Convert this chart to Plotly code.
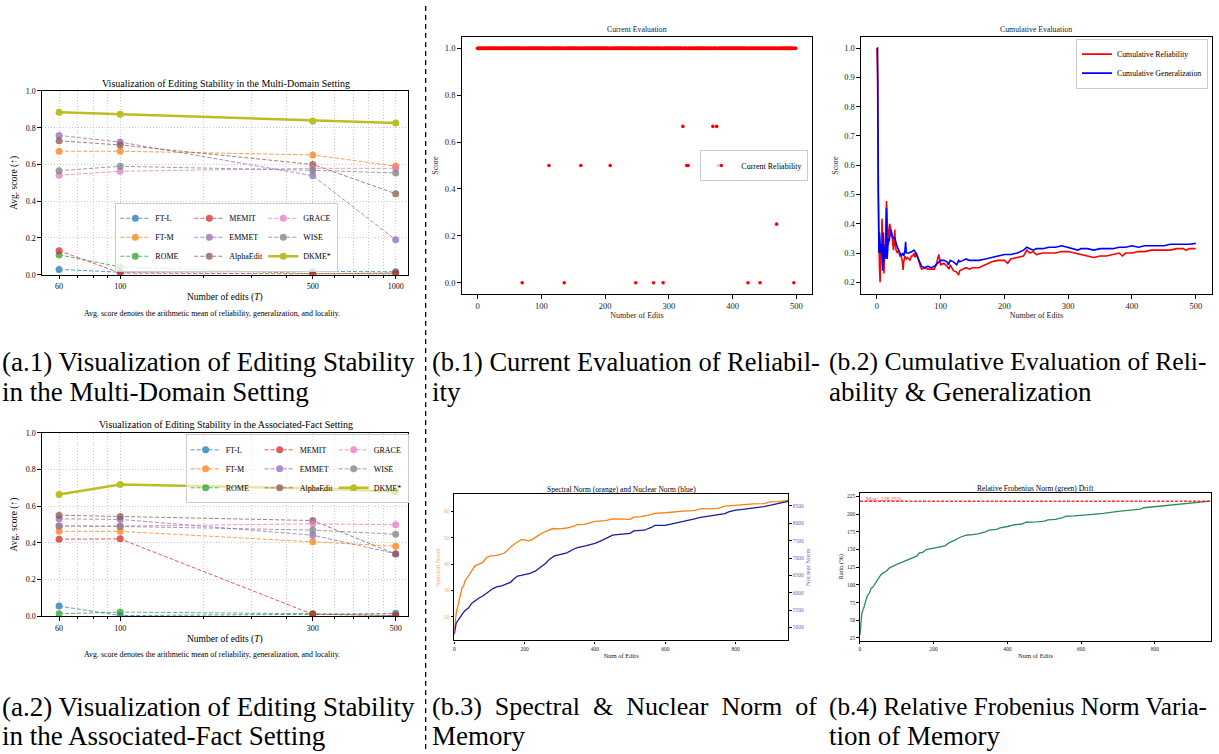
import plotly.graph_objects as go

W, H = 1219, 754
SERIF = "Liberation Serif"


def fx(px):
    return px / W


def fy(py):
    return 1 - py / H


# ---------------- (a.1) / (a.2) data ----------------
methods = ["FT-L", "FT-M", "ROME", "MEMIT", "EMMET", "AlphaEdit", "GRACE", "WISE", "DKME*"]
method_colors = ["#1f77b4", "#ff7f0e", "#2ca02c", "#d62728", "#9467bd",
                 "#8c564b", "#e377c2", "#7f7f7f", "#bcbd22"]

a1_edits = [60, 100, 500, 1000]
a1_tick_labels = ["60", "100", "500", "1000"]
a1_ftl = [0.029, 0.014, 0.018, 0.016]
a1_ftm = [0.672, 0.672, 0.652, 0.591]
a1_rome = [0.108, 0.043, 0.005, 0.005]
a1_memit = [0.131, 0.009, 0.005, 0.009]
a1_emmet = [0.758, 0.722, 0.539, 0.190]
a1_alphaedit = [0.729, 0.706, 0.600, 0.441]
a1_grace = [0.541, 0.563, 0.579, 0.579]
a1_wise = [0.566, 0.590, 0.568, 0.554]
a1_dkme = [0.884, 0.873, 0.837, 0.826]

# the source draws (a.2) on the same log grid as (a.1), relabelling the ticks
a2_edit_labels = ["60", "100", "300", "500"]
a2_edit_positions = [60, 100, 500, 1000]
a2_ftl = [0.056, 0.004, 0.011, 0.016]
a2_ftm = [0.463, 0.463, 0.406, 0.382]
a2_rome = [0.014, 0.023, 0.014, 0.004]
a2_memit = [0.420, 0.422, 0.011, 0.004]
a2_emmet = [0.531, 0.528, 0.442, 0.341]
a2_alphaedit = [0.551, 0.544, 0.522, 0.339]
a2_grace = [0.492, 0.492, 0.504, 0.499]
a2_wise = [0.492, 0.490, 0.470, 0.447]
a2_dkme = [0.664, 0.718, 0.697, 0.680]

minor_edit_ticks = [70, 80, 90, 200, 300, 400, 600, 700, 800, 900]

# ---------------- (b.1) data ----------------
b1_num_edits = list(range(0, 500))
b1_imperfect_edits = [70, 112, 136, 162, 208, 248, 276, 291, 322, 328, 330,
                      369, 375, 377, 424, 443, 469, 496]
b1_imperfect_scores = [0.0, 0.5, 0.0, 0.5, 0.5, 0.0, 0.0, 0.0, 0.667, 0.5, 0.5,
                       0.667, 0.667, 0.5, 0.0, 0.0, 0.25, 0.0]
b1_reliability = [1.0] * len(b1_num_edits)
for e, s in zip(b1_imperfect_edits, b1_imperfect_scores):
    b1_reliability[e] = s

# ---------------- (b.2) data ----------------
b2_cum_reliability = [
    (0, 1.0), (1, 0.9), (2, 0.5), (3, 0.33), (4, 0.25), (5, 0.2), (6, 0.33), (7, 0.29),
    (8, 0.417), (9, 0.33), (10, 0.3), (11, 0.23), (12, 0.33), (13, 0.31), (14, 0.43),
    (15, 0.478), (16, 0.41), (17, 0.35), (18, 0.33), (19, 0.37), (20, 0.40), (21, 0.39),
    (22, 0.38), (23, 0.36), (24, 0.35), (25, 0.33), (26, 0.31), (27, 0.34), (28, 0.38),
    (29, 0.33), (30, 0.31), (32, 0.30), (34, 0.31), (36, 0.29), (38, 0.29), (40, 0.27),
    (41, 0.242), (42, 0.27), (44, 0.29), (46, 0.28), (48, 0.285), (50, 0.28), (52, 0.275),
    (54, 0.29), (56, 0.29), (58, 0.30), (60, 0.285), (62, 0.30), (64, 0.28), (66, 0.27),
    (68, 0.255), (70, 0.245), (75, 0.25), (80, 0.245), (85, 0.245), (90, 0.245),
    (93, 0.26), (95, 0.275), (97, 0.295), (100, 0.26), (105, 0.265), (110, 0.255),
    (113, 0.245), (115, 0.26), (120, 0.24), (125, 0.235), (128, 0.225), (130, 0.24),
    (135, 0.245), (140, 0.25), (145, 0.245), (150, 0.25), (160, 0.25), (170, 0.26),
    (180, 0.27), (190, 0.275), (200, 0.275), (205, 0.265), (210, 0.28), (220, 0.285),
    (230, 0.29), (235, 0.31), (240, 0.30), (245, 0.305), (250, 0.295), (260, 0.30),
    (270, 0.30), (280, 0.30), (290, 0.305), (300, 0.305), (310, 0.30), (320, 0.295),
    (330, 0.29), (340, 0.285), (350, 0.29), (360, 0.29), (370, 0.295), (380, 0.30),
    (385, 0.29), (390, 0.30), (400, 0.30), (410, 0.305), (420, 0.305), (430, 0.31),
    (440, 0.31), (450, 0.31), (460, 0.31), (470, 0.315), (480, 0.315), (485, 0.31),
    (490, 0.315), (500, 0.315)]
b2_cum_generalization = [
    (0, 1.0), (1, 1.0), (2, 0.6), (3, 0.30), (4, 0.37), (5, 0.33), (6, 0.30), (7, 0.33),
    (8, 0.30), (9, 0.24), (10, 0.37), (11, 0.27), (12, 0.32), (13, 0.28), (14, 0.30),
    (15, 0.455), (16, 0.28), (17, 0.33), (18, 0.35), (19, 0.34), (20, 0.36), (22, 0.38),
    (24, 0.36), (26, 0.35), (28, 0.35), (30, 0.33), (32, 0.32), (34, 0.31), (36, 0.30),
    (38, 0.29), (40, 0.30), (42, 0.29), (44, 0.31), (45, 0.338), (46, 0.30), (48, 0.30),
    (50, 0.30), (55, 0.305), (58, 0.31), (60, 0.305), (63, 0.29), (66, 0.275), (70, 0.255),
    (75, 0.25), (80, 0.255), (85, 0.25), (90, 0.255), (95, 0.265), (100, 0.275),
    (105, 0.275), (110, 0.27), (112, 0.26), (115, 0.275), (120, 0.27), (125, 0.26),
    (128, 0.275), (130, 0.27), (135, 0.275), (140, 0.28), (145, 0.275), (150, 0.275),
    (160, 0.275), (170, 0.28), (180, 0.285), (190, 0.29), (200, 0.295), (210, 0.295),
    (220, 0.30), (230, 0.31), (235, 0.32), (240, 0.315), (245, 0.31), (250, 0.315),
    (260, 0.315), (270, 0.32), (280, 0.32), (290, 0.325), (300, 0.32), (310, 0.315),
    (315, 0.31), (320, 0.315), (330, 0.315), (340, 0.31), (350, 0.315), (360, 0.315),
    (370, 0.315), (380, 0.32), (390, 0.32), (400, 0.325), (410, 0.32), (420, 0.325),
    (430, 0.325), (440, 0.325), (450, 0.325), (460, 0.33), (470, 0.33), (480, 0.33),
    (490, 0.33), (500, 0.333)]

# ---------------- (b.3) data ----------------
b3_spectral_norm = [
    (0, 15.0), (3, 19.0), (6, 22.0), (10, 24.0), (14, 26.0), (18, 28.5), (22, 31.0),
    (26, 31.5), (30, 33.5), (35, 34.5), (40, 35.5), (45, 36.5), (50, 37.0), (55, 38.0),
    (60, 39.5), (70, 40.0), (80, 40.5), (90, 42.3), (100, 43.0), (120, 43.3), (140, 44.0),
    (150, 45.0), (160, 46.5), (170, 47.5), (180, 48.5), (190, 49.3), (200, 49.2),
    (210, 48.8), (220, 49.2), (230, 50.2), (240, 51.0), (250, 51.8), (260, 52.3),
    (280, 53.5), (300, 53.4), (320, 53.7), (340, 54.4), (350, 55.0), (370, 55.1),
    (400, 56.2), (430, 56.5), (450, 57.2), (480, 57.1), (500, 57.0), (510, 57.8),
    (530, 58.0), (550, 58.5), (570, 59.3), (600, 59.5), (620, 59.8), (650, 60.1),
    (680, 60.3), (700, 61.0), (730, 61.1), (750, 61.2), (770, 62.0), (800, 62.4),
    (830, 62.6), (850, 62.9), (880, 63.0), (900, 63.6), (920, 63.7), (949, 64.2)]
b3_nuclear_norm = [
    (0, 4800), (2, 5000), (5, 5120), (10, 5200), (15, 5280), (20, 5380), (25, 5420),
    (30, 5480), (40, 5560), (50, 5700), (60, 5780), (70, 5850), (80, 5900), (90, 5980),
    (100, 6060), (110, 6120), (120, 6170), (135, 6200), (150, 6260), (160, 6300),
    (170, 6400), (180, 6480), (190, 6500), (200, 6520), (215, 6560), (230, 6620),
    (240, 6700), (250, 6760), (260, 6850), (270, 6960), (285, 7060), (300, 7100),
    (320, 7150), (340, 7260), (350, 7300), (370, 7340), (390, 7400), (400, 7420),
    (420, 7510), (440, 7600), (450, 7660), (470, 7680), (490, 7700), (500, 7710),
    (510, 7780), (540, 7800), (560, 7880), (570, 7940), (600, 7940), (620, 7980),
    (640, 8040), (660, 8080), (680, 8120), (700, 8170), (720, 8200), (750, 8240),
    (770, 8280), (780, 8330), (800, 8380), (820, 8400), (840, 8420), (860, 8440),
    (880, 8480), (900, 8520), (920, 8560), (940, 8600), (949, 8630)]

# ---------------- (b.4) data ----------------
b4_frobenius_ratio = [
    (0, 29.6), (3, 50), (5, 60), (8, 65), (10, 67), (15, 76), (20, 85), (25, 88), (30, 95),
    (35, 97), (40, 101), (45, 105), (50, 110), (55, 113), (60, 116), (70, 119), (80, 124),
    (90, 127), (100, 129), (110, 131), (120, 133), (130, 135), (140, 137), (150, 139),
    (155, 141), (160, 145), (170, 146), (180, 150), (190, 151), (200, 152), (220, 153),
    (230, 155), (240, 159), (250, 161), (260, 164), (270, 167), (280, 169), (290, 170.5),
    (300, 170.6), (320, 172), (340, 175), (350, 177.5), (370, 178.5), (380, 180.5),
    (400, 182.5), (420, 185), (440, 186), (450, 188.5), (480, 189), (500, 190),
    (510, 192), (530, 192.5), (550, 195), (560, 197), (580, 197.5), (600, 198),
    (620, 199), (640, 200), (660, 201), (680, 203), (700, 204), (720, 205), (740, 206),
    (760, 207), (770, 209), (790, 210), (800, 211), (820, 211.5), (850, 213.4),
    (870, 214), (900, 215.2), (920, 216.5), (940, 217.5), (950, 218.25)]


def unzip(pts):
    return [p[0] for p in pts], [p[1] for p in pts]


# ---------------- figure ----------------
fig = go.Figure()

a1_series = [a1_ftl, a1_ftm, a1_rome, a1_memit, a1_emmet, a1_alphaedit, a1_grace, a1_wise, a1_dkme]
a2_series = [a2_ftl, a2_ftm, a2_rome, a2_memit, a2_emmet, a2_alphaedit, a2_grace, a2_wise, a2_dkme]


def add_method_traces(xs, series, xa, ya, legend, prefix):
    for i, (name, col, ys) in enumerate(zip(methods, method_colors, series)):
        ours = name == "DKME*"
        fig.add_trace(go.Scatter(
            x=xs, y=ys, name=name, mode="lines+markers",
            line=dict(color=col, width=2.6 if ours else 1, dash="solid" if ours else "4px,2px"),
            marker=dict(size=7, color=col),
            opacity=1.0 if ours else 0.75,
            xaxis=xa, yaxis=ya, legend=legend, legendgroup=f"{prefix}{i // 3}",
            hoverinfo="skip"))


add_method_traces(a1_edits, a1_series, "x", "y", "legend", "a1col")
add_method_traces(a2_edit_positions, a2_series, "x2", "y2", "legend2", "a2col")

fig.add_trace(go.Scatter(
    x=b1_num_edits, y=b1_reliability, mode="markers", name="Current Reliability",
    marker=dict(size=3.6, color="#ff0000"), xaxis="x3", yaxis="y3", legend="legend3"))

bx, by = unzip(b2_cum_reliability)
fig.add_trace(go.Scatter(x=bx, y=by, mode="lines", name="Cumulative Reliability",
                         line=dict(color="#ff0000", width=1.6), xaxis="x4", yaxis="y4",
                         legend="legend4"))
bx, by = unzip(b2_cum_generalization)
fig.add_trace(go.Scatter(x=bx, y=by, mode="lines", name="Cumulative Generalization",
                         line=dict(color="#0000ff", width=1.6), xaxis="x4", yaxis="y4",
                         legend="legend4"))

SPEC_COL = "#ff7f0e"
NUC_COL = "#1c1c96"
bx, by = unzip(b3_spectral_norm)
fig.add_trace(go.Scatter(x=bx, y=by, mode="lines", line=dict(color=SPEC_COL, width=1.3),
                         xaxis="x5", yaxis="y5", showlegend=False))
bx, by = unzip(b3_nuclear_norm)
fig.add_trace(go.Scatter(x=bx, y=by, mode="lines", line=dict(color=NUC_COL, width=1.3),
                         xaxis="x5", yaxis="y6", showlegend=False))

bx, by = unzip(b4_frobenius_ratio)
fig.add_trace(go.Scatter(x=bx, y=by, mode="lines", line=dict(color="#2e8b57", width=1.3),
                         xaxis="x6", yaxis="y7", showlegend=False))
b4_max = max(by)

# ---------------- axes ----------------
GRID = "rgba(185,185,185,0.75)"


def base_axis(size, color="black", ticklen=3.5):
    return dict(showline=True, linecolor="black", linewidth=1, mirror=True,
                ticks="outside", ticklen=ticklen, tickwidth=0.8, tickcolor="black",
                showgrid=False, zeroline=False,
                tickfont=dict(family=SERIF, size=size, color=color))


def a_xaxis(anchor, ticktext):
    ax = base_axis(8)
    ax.update(type="log", range=[1.716, 3.0435], tickmode="array", tickvals=a1_edits,
              ticktext=ticktext, domain=[fx(41), fx(407)], anchor=anchor, linewidth=1.2,
              showgrid=True, gridcolor=GRID, griddash="1px,2px", gridwidth=0.7,
              minor=dict(tickmode="array", tickvals=minor_edit_ticks, ticks="outside",
                         ticklen=2, tickcolor="black", showgrid=True, gridcolor=GRID,
                         griddash="1px,2px", gridwidth=0.7),
              title=dict(text="Number of edits (<i>T</i>)",
                         font=dict(family=SERIF, size=9.5, color="black"), standoff=3))
    return ax


def a_yaxis(anchor, top, bottom):
    ax = base_axis(8)
    ax.update(range=[0, 1], tickvals=[0, 0.2, 0.4, 0.6, 0.8, 1.0], tickformat=".1f",
              domain=[fy(bottom), fy(top)], anchor=anchor, linewidth=1.2,
              showgrid=True, gridcolor=GRID, griddash="1px,2px", gridwidth=0.7,
              title=dict(text="Avg. score (↑)", font=dict(family=SERIF, size=9.5, color="black"),
                         standoff=6))
    return ax


layout_axes = {}
layout_axes["xaxis"] = a_xaxis("y", a1_tick_labels)
layout_axes["yaxis"] = a_yaxis("x", 88, 274)
layout_axes["xaxis2"] = a_xaxis("y2", a2_edit_labels)
layout_axes["yaxis2"] = a_yaxis("x2", 434, 619.7)

ax = base_axis(8.5, "#222222")
ax.update(range=[-25, 525], tickvals=[0, 100, 200, 300, 400, 500], domain=[fx(461), fx(812)],
          anchor="y3", title=dict(text="Number of Edits", font=dict(family=SERIF, size=8, color="#222"),
                                  standoff=2))
layout_axes["xaxis3"] = ax
ax = base_axis(8.5, "#222222")
ax.update(range=[-0.05, 1.05], tickvals=[0, 0.2, 0.4, 0.6, 0.8, 1.0], tickformat=".1f",
          domain=[fy(294), fy(33)], anchor="x3",
          title=dict(text="Score", font=dict(family=SERIF, size=8, color="#222"), standoff=4))
layout_axes["yaxis3"] = ax

ax = base_axis(8.5, "#222222")
ax.update(range=[-25, 525], tickvals=[0, 100, 200, 300, 400, 500], domain=[fx(860.7), fx(1211.7)],
          anchor="y4", title=dict(text="Number of Edits", font=dict(family=SERIF, size=8, color="#222"),
                                  standoff=2))
layout_axes["xaxis4"] = ax
ax = base_axis(8.5, "#222222")
ax.update(range=[0.1585, 1.039], tickvals=[0.2, 0.3, 0.4, 0.5, 0.6, 0.7, 0.8, 0.9, 1.0],
          tickformat=".1f", domain=[fy(294), fy(33)], anchor="x4",
          title=dict(text="Score", font=dict(family=SERIF, size=8, color="#222"), standoff=4))
layout_axes["yaxis4"] = ax

SPEC_TXT = "rgb(255,160,95)"
NUC_TXT = "rgb(105,105,200)"
ax = base_axis(5.5, "#222222", ticklen=2.5)
ax.update(range=[0, 949], tickvals=[0, 200, 400, 600, 800], domain=[fx(453.7), fx(787.7)],
          anchor="y5", linewidth=1.4,
          title=dict(text="Num of Edits", font=dict(family=SERIF, size=6.5, color="#222"), standoff=2))
layout_axes["xaxis5"] = ax
ax = base_axis(5.5, SPEC_TXT, ticklen=2.5)
ax.update(range=[11, 66.6], tickvals=[20, 30, 40, 50, 60], domain=[fy(644), fy(496)],
          anchor="x5", linewidth=1.4,
          title=dict(text="Spectral Norm", font=dict(family=SERIF, size=6.5, color=SPEC_TXT), standoff=2))
layout_axes["yaxis5"] = ax
ax = base_axis(5.5, NUC_TXT, ticklen=2.5)
ax.update(range=[4630, 8841], tickvals=[5000, 5500, 6000, 6500, 7000, 7500, 8000, 8500],
          overlaying="y5", side="right", anchor="x5", mirror=False, linewidth=1.4,
          title=dict(text="Nuclear Norm", font=dict(family=SERIF, size=6.5, color=NUC_TXT), standoff=2))
layout_axes["yaxis6"] = ax

ax = base_axis(5.5, "#222222", ticklen=2.5)
ax.update(range=[0, 952], tickvals=[0, 200, 400, 600, 800], domain=[fx(859.7), fx(1211)],
          anchor="y7", linewidth=1.4,
          title=dict(text="Num of Edits", font=dict(family=SERIF, size=6.5, color="#222"), standoff=2))
layout_axes["xaxis6"] = ax
ax = base_axis(5.5, "#222222", ticklen=2.5)
ax.update(range=[21.3, 229.7], tickvals=[25, 50, 75, 100, 125, 150, 175, 200, 225],
          ticksuffix="%", domain=[fy(644.3), fy(495)], anchor="x6", linewidth=1.4,
          title=dict(text="Ratio (%)", font=dict(family=SERIF, size=6.5, color="#222"), standoff=2))
layout_axes["yaxis7"] = ax


# ---------------- legends ----------------
def legend_style(**kw):
    d = dict(bgcolor="rgba(255,255,255,0.8)", bordercolor="#cccccc", borderwidth=1,
             font=dict(family=SERIF, size=8, color="black"))
    d.update(kw)
    return d


legends = dict(
    legend=legend_style(x=fx(226), xanchor="center", y=fy(271), yanchor="bottom",
                        orientation="h", traceorder="grouped", entrywidth=29,
                        entrywidthmode="pixels"),
    legend2=legend_style(x=fx(408), xanchor="right", y=fy(435.5), yanchor="top",
                         orientation="h", traceorder="grouped", entrywidth=29,
                         entrywidthmode="pixels", bgcolor="rgba(255,255,255,0.6)"),
    legend3=legend_style(x=fx(808), xanchor="right", y=fy(163.5), yanchor="middle"),
    legend4=legend_style(x=fx(1208), xanchor="right", y=fy(35), yanchor="top",
                         font=dict(family=SERIF, size=7.8, color="black")),
)

# ---------------- annotations ----------------
ann = []


def text(px, py, s, size, color="black", xanchor="center", yanchor="middle"):
    ann.append(dict(x=fx(px), y=fy(py), xref="paper", yref="paper", text=s, showarrow=False,
                    xanchor=xanchor, yanchor=yanchor,
                    font=dict(family=SERIF, size=size, color=color)))


text(225, 80, "Visualization of Editing Stability in the Multi-Domain Setting", 10)
text(225, 425.5, "Visualization of Editing Stability in the Associated-Fact Setting", 10)
text(211, 313, "Avg. score denotes the arithmetic mean of reliability, generalization, and locality.", 7.9)
text(211, 658, "Avg. score denotes the arithmetic mean of reliability, generalization, and locality.", 7.9)
text(636.5, 25.5, "Current Evaluation", 7.8, "#222")
text(1036, 25.5, "Cumulative Evaluation", 7.8, "#222")
text(621, 491, "Spectral Norm (orange) and Nuclear Norm (blue)", 7.5)
text(1035.5, 490.5, "Relative Frobenius Norm (green) Drift", 7.5)

CAP = 27
NB = "\u00a0"
text(-1, 362, "(a.1) Visualization of Editing Stability", CAP, xanchor="left")
text(-1, 393, "in the Multi-Domain Setting", CAP, xanchor="left")
text(429, 362, "(b.1) Current Evaluation of Reliabil-", 26.5, xanchor="left")
text(429, 393, "ity", CAP, xanchor="left")
text(827, 362, "(b.2) Cumulative Evaluation of Reli-", 25.6, xanchor="left")
text(827, 393, "ability &amp; Generalization", CAP, xanchor="left")
text(-1, 711, "(a.2) Visualization of Editing Stability", CAP, xanchor="left")
text(-1, 741, "in the Associated-Fact Setting", CAP, xanchor="left")
text(429, 711, "(b.3)" + NB * 2 + "Spectral" + NB * 2 + "&amp;" + NB * 2 + "Nuclear" + NB * 2
     + "Norm" + NB * 2 + "of", 26, xanchor="left")
text(429, 741, "Memory", CAP, xanchor="left")
text(827, 711, "(b.4) Relative Frobenius Norm Varia-", 25.2, xanchor="left")
text(827, 741, "tion of Memory", CAP, xanchor="left")

ann.append(dict(x=0.012, y=b4_max, xref="x6 domain", yref="y7", text=f"Max: {b4_max:.2f}%",
                showarrow=False, xanchor="left", yanchor="middle", yshift=2,
                font=dict(family=SERIF, size=6, color="rgba(255,0,0,0.75)")))

shapes = [
    dict(type="line", xref="paper", yref="paper", x0=fx(425), x1=fx(425), y0=0, y1=1,
         line=dict(color="black", width=1.3, dash="5px,4px")),
    dict(type="line", xref="x6 domain", yref="y7", x0=0, x1=1, y0=b4_max, y1=b4_max,
         line=dict(color="rgba(255,0,0,0.8)", width=1.6, dash="3px,1.5px")),
]

fig.update_layout(
    width=W, height=H, autosize=False,
    margin=dict(l=0, r=0, t=0, b=0, pad=0),
    paper_bgcolor="white", plot_bgcolor="white",
    font=dict(family=SERIF, color="black"),
    annotations=ann, shapes=shapes,
    **layout_axes, **legends,
)

fig.write_html("out.html")
